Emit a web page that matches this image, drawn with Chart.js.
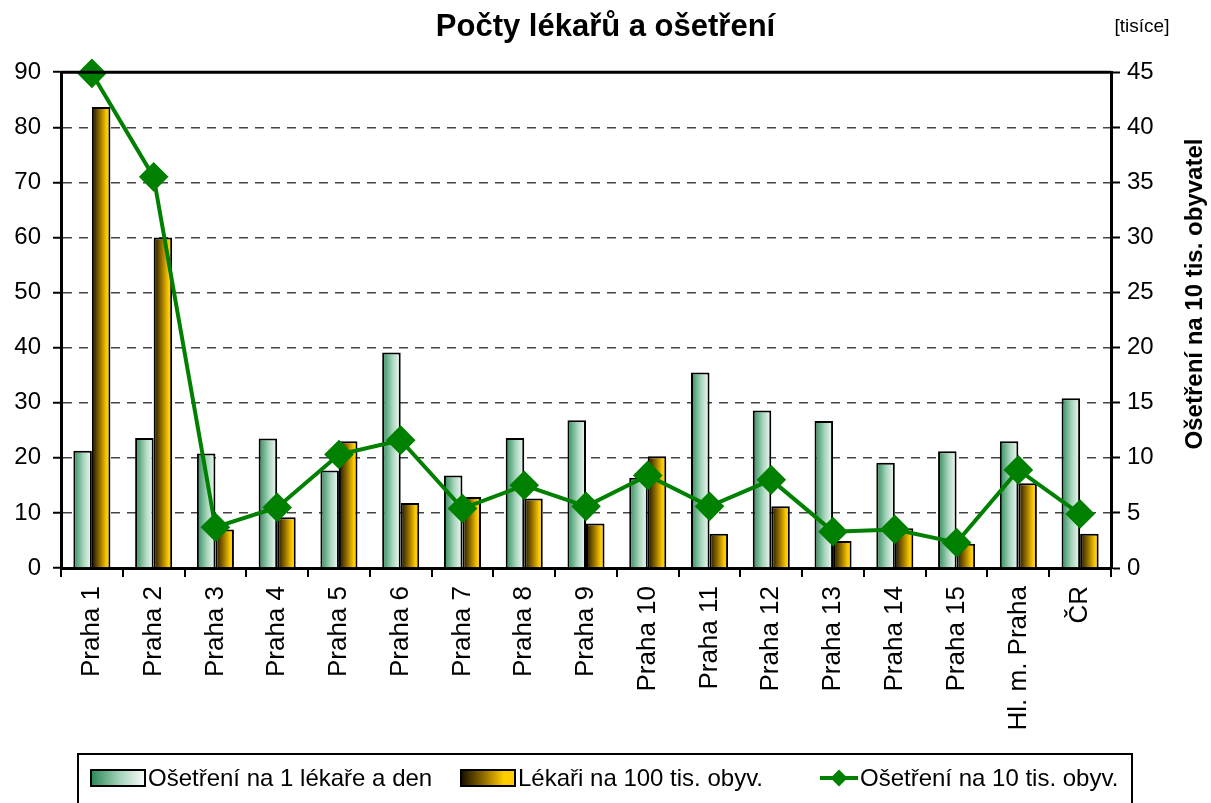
<!DOCTYPE html>
<html>
<head>
<meta charset="utf-8">
<script src="https://cdn.jsdelivr.net/npm/chart.js@4/dist/chart.umd.min.js"></script>
<style>
  html, body { margin: 0; padding: 0; background: #fff; }
  #wrap { position: relative; width: 1211px; height: 803px; overflow: hidden; }
  #legend {
    position: absolute; left: 77px; top: 753px; width: 1056px; height: 70px;
    border: 2px solid #000; box-sizing: border-box;
    font-family: "Liberation Sans", Arial, sans-serif; font-size: 24px; color: #000;
  }
  .it { position: absolute; top: 9px; display: flex; align-items: center; white-space: nowrap; }
  .box { width: 52px; height: 14px; border: 2px solid #000; margin-right: 2px; }
  .g { background: linear-gradient(to right, #2e8b5a, #a8d5bd 55%, #f6fbf8); }
  .y { background: linear-gradient(to right, #1a1200, #9a7400 45%, #ffcc00 80%); }
  .ln { position: relative; width: 38px; height: 14px; margin-right: 2px; }
  .ln:before { content: ""; position: absolute; left: 0; right: 0; top: 5px; height: 4px; background: #008000; }
  .ln:after { content: ""; position: absolute; left: 13px; top: 1px; width: 12px; height: 12px; background: #008000; transform: rotate(45deg); }
</style>
</head>
<body>
<div id="wrap">
  <canvas id="graf" width="1211" height="803"></canvas>
  <div id="legend">
    <div class="it" style="left:11px"><span class="box g"></span>Ošetření na 1 lékaře a den</div>
    <div class="it" style="left:381px"><span class="box y"></span>Lékaři na 100 tis. obyv.</div>
    <div class="it" style="left:741px"><span class="ln"></span>Ošetření na 10 tis. obyv.</div>
  </div>
</div>
<script>
// kategorie a hodnoty
const kategorie = ['Praha 1', 'Praha 2', 'Praha 3', 'Praha 4', 'Praha 5', 'Praha 6', 'Praha 7', 'Praha 8',
  'Praha 9', 'Praha 10', 'Praha 11', 'Praha 12', 'Praha 13', 'Praha 14', 'Praha 15', 'Hl. m. Praha', 'ČR'];
const osetreniNaLekare = [21.3, 23.6, 20.8, 23.5, 17.7, 39.1, 16.8, 23.6, 26.8, 16.4, 35.5, 28.6, 26.7, 19.1, 21.2, 23.0, 30.8];
const lekariNa100tis = [83.7, 60.0, 7.0, 9.2, 23.0, 11.8, 12.9, 12.6, 8.1, 20.3, 6.2, 11.2, 4.9, 7.2, 4.4, 15.4, 6.2];
const osetreniNa10tis = [44.9, 35.5, 3.7, 5.5, 10.3, 11.6, 5.4, 7.5, 5.6, 8.4, 5.6, 8.0, 3.3, 3.5, 2.3, 8.9, 4.9];
const levaOsa = [0, 10, 20, 30, 40, 50, 60, 70, 80, 90];
const pravaOsa = [0, 5, 10, 15, 20, 25, 30, 35, 40, 45];

const FONT = '"Liberation Sans", Arial, sans-serif';
const CAT_PCT = 0.6;

// gradient přes šířku jednoho sloupce
function gradient(ctx, side, stops) {
  const chart = ctx.chart;
  const x = chart.scales.x;
  if (!chart.chartArea || !x || ctx.type !== 'data') return stops[stops.length - 1][1];
  const c = x.getPixelForValue(ctx.dataIndex);
  const w = x.width / kategorie.length * CAT_PCT / 2;
  const x0 = side < 0 ? c - w : c;
  const g = chart.ctx.createLinearGradient(x0, 0, x0 + w, 0);
  stops.forEach(s => g.addColorStop(s[0], s[1]));
  return g;
}

const extra = {
  id: 'extra',
  afterDraw(chart) {
    const { ctx, chartArea: a } = chart;
    ctx.save();
    // horní okraj
    ctx.strokeStyle = '#000';
    ctx.lineWidth = 3;
    ctx.beginPath();
    ctx.moveTo(a.left, a.top);
    ctx.lineTo(a.right, a.top);
    ctx.stroke();
    ctx.fillStyle = '#000';
    ctx.font = '19px ' + FONT;
    ctx.textAlign = 'center';
    ctx.textBaseline = 'middle';
    ctx.fillText('[tisíce]', 1142, 27);
    ctx.translate(1195, 294);
    ctx.rotate(-Math.PI / 2);
    ctx.font = 'bold 24px ' + FONT;
    ctx.fillText('Ošetření na 10 tis. obyvatel', 0, 0);
    ctx.restore();
  }
};

const ctx = document.getElementById('graf').getContext('2d');
new Chart(ctx, {
  data: {
    labels: kategorie,
    datasets: [
      {
        type: 'line',
        label: 'Ošetření na 10 tis. obyv.',
        data: osetreniNa10tis,
        yAxisID: 'y2',
        order: 0,
        clip: false,
        borderColor: '#008000',
        borderWidth: 4,
        pointStyle: 'rectRot',
        pointRadius: 12,
        pointBackgroundColor: '#008000',
        pointBorderColor: '#008000',
        tension: 0
      },
      {
        type: 'bar',
        label: 'Ošetření na 1 lékaře a den',
        data: osetreniNaLekare,
        yAxisID: 'y',
        order: 1,
        backgroundColor: c => gradient(c, -1, [[0, '#2e8b5a'], [0.55, '#a8d5bd'], [1, '#f6fbf8']]),
        borderColor: '#000',
        borderWidth: 2,
        categoryPercentage: CAT_PCT,
        barPercentage: 1
      },
      {
        type: 'bar',
        label: 'Lékaři na 100 tis. obyv.',
        data: lekariNa100tis,
        yAxisID: 'y',
        order: 1,
        backgroundColor: c => gradient(c, 1, [[0, '#1a1200'], [0.45, '#9a7400'], [0.8, '#ffcc00'], [1, '#ffcc00']]),
        borderColor: '#000',
        borderWidth: 2,
        categoryPercentage: CAT_PCT,
        barPercentage: 1
      }
    ]
  },
  options: {
    responsive: false,
    animation: false,
    layout: { padding: { top: 0, right: 0, left: 0, bottom: 0 } },
    plugins: {
      legend: { display: false },
      tooltip: { enabled: false },
      title: {
        display: true,
        text: 'Počty lékařů a ošetření',
        color: '#000',
        font: { family: FONT, size: 31, weight: 'bold' },
        padding: { top: 9, bottom: 26 }
      }
    },
    scales: {
      x: {
        afterFit: s => { s.height = 803 - 568; },
        grid: { offset: true, drawOnChartArea: false, drawTicks: true, tickLength: 9, color: '#000', lineWidth: 2 },
        border: { display: true, color: '#000', width: 3 },
        ticks: {
          color: '#000', font: { family: FONT, size: 26 },
          maxRotation: 90, minRotation: 90, autoSkip: false, padding: 9
        }
      },
      y: {
        position: 'left',
        min: 0, max: 90,
        afterFit: s => { s.width = 61; },
        afterBuildTicks: s => { s.ticks = levaOsa.map(v => ({ value: v })); },
        grid: {
          color: c => (c.tick && (c.tick.value === 0 || c.tick.value === 90)) ? 'rgba(0,0,0,0)' : '#444',
          lineWidth: 1.5,
          tickColor: '#000',
          tickWidth: 2,
          tickLength: 8
        },
        border: { display: true, color: '#000', width: 3, dash: [9, 7] },
        ticks: { color: '#000', font: { family: FONT, size: 24 }, padding: 12 }
      },
      y2: {
        position: 'right',
        min: 0, max: 45,
        afterFit: s => { s.width = 100; },
        afterBuildTicks: s => { s.ticks = pravaOsa.map(v => ({ value: v })); },
        grid: { drawOnChartArea: false, tickColor: '#000', tickWidth: 2, tickLength: 9 },
        border: { display: true, color: '#000', width: 3 },
        ticks: { color: '#000', font: { family: FONT, size: 24 }, padding: 7 }
      }
    }
  },
  plugins: [extra]
});
</script>
</body>
</html>
